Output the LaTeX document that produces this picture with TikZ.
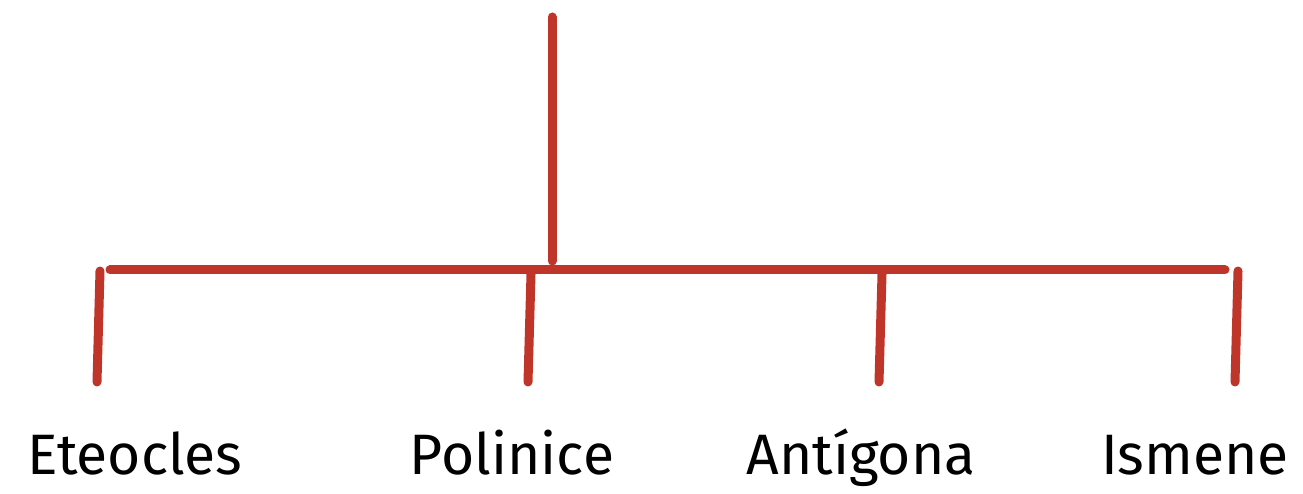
\documentclass[tikz,border=0pt]{standalone}
\usepackage{fontspec}
\setmainfont{Fira Sans}
\definecolor{linered}{HTML}{C0352A}
\begin{document}
\begin{tikzpicture}[x=1pt,y=-1pt,
  branch/.style={draw=linered,line width=9pt,line cap=round},
  personlabel/.style={anchor=base,inner sep=0pt,font=\fontsize{57}{66}\selectfont}]
\useasboundingbox (0,0) rectangle (1303,494);
% coordinates
\coordinate (top) at (552,17);
\coordinate (topend) at (552,261);
\coordinate (barL) at (110,270);
\coordinate (barR) at (1225,270);
\coordinate (e1) at (100,271); \coordinate (e2) at (97,382);
\coordinate (p1) at (531,274); \coordinate (p2) at (528,382);
\coordinate (a1) at (882,274); \coordinate (a2) at (879,382);
\coordinate (i1) at (1238,271); \coordinate (i2) at (1235,382);
% lines
\draw[branch] (top) -- (topend);
\draw[branch] (barL) -- (barR);
\draw[branch] (e1) -- (e2);
\draw[branch] (p1) -- (p2);
\draw[branch] (a1) -- (a2);
\draw[branch] (i1) -- (i2);
% labels
\node[personlabel] (eteocles) at (135,474) {Eteocles};
\node[personlabel] (polinice) at (512,474) {Polinice};
\node[personlabel] (antigona) at (861,474) {Antígona};
\node[personlabel] (ismene) at (1195,474) {Ismene};
\end{tikzpicture}
\end{document}
